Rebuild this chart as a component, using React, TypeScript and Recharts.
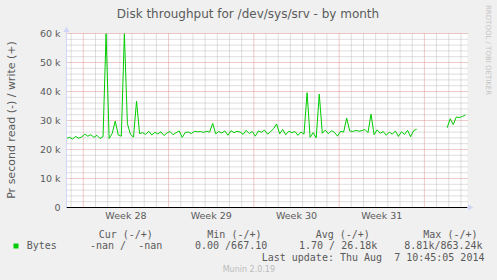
import React from 'react';
import { LineChart, Line, XAxis, YAxis, CartesianGrid, ReferenceLine } from 'recharts';

// sample grid: one value every 6 hours, first sample at START (days rel. to start of week 28)
const START = -1.38;
const STEP = 0.25;

// write bytes per second, in thousands (null = no data)
const writeK: (number | null)[] = [
  23.8, 24.2, 23.6, 24.5, 23.9, 24.3, 25.3, 24.6, 25.1, 24.2, 24.9, 23.8, 24.4,
  60, 23.8, 25.5, 29.8, 25.0, 24.6, 60, 28.9, 25.2, 24.3, 36.7, 25.5,
  25.8, 25.2, 26.3, 25.0, 25.9, 25.4, 26.1, 24.8, 25.7, 26.2, 25.1, 25.8,
  26.4, 24.2, 25.9, 26.0, 25.5, 26.3, 26.1, 26.2, 25.9, 26.3, 26.0,
  29.0, 25.4,
  26.2, 25.7, 26.4, 24.9, 26.5, 25.8, 26.3, 26.0, 25.2, 26.6, 25.5, 26.2,
  24.6, 26.4, 25.9, 26.7, 25.3, 26.1, 27.2,
  28.8, 25.4, 26.9, 25.1, 26.3, 25.8, 26.2, 24.9, 26.0, 25.3,
  39.6, 24.2, 25.8, 24.0, 39.1,
  25.6, 26.7, 25.4, 26.5, 25.9, 24.6, 26.3, 26.0,
  30.8, 26.4, 26.2, 26.6, 26.3, 26.5, 26.9, 25.8,
  32.2, 25.1, 26.8, 25.6, 26.2, 24.9, 26.0, 25.3, 26.4, 24.5, 26.1, 25.2,
  26.6, 24.4, 26.5, 27.0,
  null, null, null, null, null, null, null, null, null,
  27.5, 30.6, 28.6, 31.2, 31.0, 31.4, 31.9,
];

const yTicks = [0, 10, 20, 30, 40, 50, 60];
const yMajor = [10, 20, 30, 40, 50, 60];
const yMinor = [2, 4, 6, 8, 12, 14, 16, 18, 22, 24, 26, 28, 32, 34, 36, 38, 42, 44, 46, 48, 52, 54, 56, 58];
const weekStarts = [0, 7, 14, 21, 28];
const dayLines = [-1, 1, 2, 3, 4, 5, 6, 8, 9, 10, 11, 12, 13, 15, 16, 17, 18, 19, 20, 22, 23, 24, 25, 26, 27, 29, 30, 31];
const weekMids = [3.5, 10.5, 17.5, 24.5];
const weekLabels = ['Week 28', 'Week 29', 'Week 30', 'Week 31'];

const legendHead = ['Cur (-/+)', 'Min (-/+)', 'Avg (-/+)', 'Max (-/+)'];
const legendVals = ['-nan /  -nan', '0.00 /667.10', '1.70 / 26.18k', '8.81k/863.24k'];

const data = writeK.map((v, i) => ({ t: START + i * STEP, bytes: v }));

const FONT = '#5a5a5a';
const AXIS = '#CFD6F8';
const sans = '"DejaVu Sans", sans-serif';
const mono = '"DejaVu Sans Mono", monospace';

const App: React.FC = () => {
  const colX = [98.7, 207.3, 315.7, 423.3];
  const valX = [90, 195, 299, 404.3];

  return (
    <div style={{ position: 'absolute', left: 0, top: 0, width: 497, height: 280, background: '#f0f0f0' }}>
      <LineChart
        width={497}
        height={280}
        data={data}
        margin={{ top: 33.5, right: 29.5, bottom: 52.5, left: 6.5 }}
        style={{ position: 'absolute', left: 0, top: 0 }}
      >
        {/* minor grid */}
        <CartesianGrid
          fill="#ffffff"
          stroke="#bdbdbd"
          strokeDasharray="1 1"
          horizontalValues={yMinor}
          verticalValues={dayLines}
        />
        {/* major grid */}
        <CartesianGrid
          stroke="#e39393"
          strokeDasharray="1 1"
          horizontalValues={yMajor}
          verticalValues={weekStarts}
        />
        <XAxis
          type="number"
          dataKey="t"
          domain={[START, 31.54]}
          allowDataOverflow
          ticks={weekMids}
          tickFormatter={(v: number) => weekLabels[weekMids.indexOf(v)] ?? ''}
          tickLine={false}
          axisLine={false}
          tickSize={0}
          tickMargin={5}
          height={20}
          interval={0}
          tick={{ fontSize: 9.5, fontFamily: sans, fill: FONT }}
        />
        <YAxis
          domain={[0, 60]}
          allowDataOverflow
          ticks={yTicks}
          tickFormatter={(v: number) => (v === 0 ? '0' : `${v} k`)}
          tickLine={false}
          axisLine={{ stroke: AXIS }}
          tickSize={0}
          tickMargin={6}
          width={60}
          interval={0}
          tick={{ fontSize: 9.5, fontFamily: sans, fill: FONT }}
        />
        <ReferenceLine y={0} stroke="#000000" strokeWidth={1} />
        <Line
          type="linear"
          dataKey="bytes"
          stroke="#00cc00"
          strokeWidth={1}
          dot={false}
          activeDot={false}
          connectNulls={false}
          isAnimationActive={false}
        />
      </LineChart>

      <svg
        width={497}
        height={280}
        style={{ position: 'absolute', left: 0, top: 0, pointerEvents: 'none' }}
      >
        <text x={248} y={17.5} textAnchor="middle" fontSize={12} fontFamily={sans} fill={FONT}>
          Disk throughput for /dev/sys/srv - by month
        </text>
        <text
          x={15}
          y={120}
          transform="rotate(-90 15 120)"
          textAnchor="middle"
          fontSize={11}
          fontFamily={sans}
          fill={FONT}
        >
          Pr second read (-) / write (+)
        </text>
        <text
          x={485.5}
          y={5}
          transform="rotate(90 485.5 5)"
          fontSize={7}
          fontFamily={sans}
          fill="#c4c4c4"
        >
          RRDTOOL / TOBI OETIKER
        </text>

        {/* axis arrows */}
        <line x1={66.5} y1={33} x2={66.5} y2={30} stroke={AXIS} />
        <polygon points="66.5,26.5 63.5,32 69.5,32" fill={AXIS} />
        <line x1={467.5} y1={207.5} x2={469} y2={207.5} stroke={AXIS} />
        <polygon points="473.5,207.5 468,204.5 468,210.5" fill={AXIS} />

        {/* legend */}
        {legendHead.map((h, i) => (
          <text key={h} x={colX[i]} y={237.5} fontSize={10} fontFamily={mono} fill={FONT} style={{ whiteSpace: 'pre' }}>
            {h}
          </text>
        ))}
        <rect x={13.5} y={243.5} width={5} height={5} fill="#00cc00" />
        <text x={26.7} y={249.3} fontSize={10} fontFamily={mono} fill={FONT}>
          Bytes
        </text>
        {legendVals.map((v, i) => (
          <text key={v} x={valX[i]} y={249.3} fontSize={10} fontFamily={mono} fill={FONT} style={{ whiteSpace: 'pre' }}>
            {v}
          </text>
        ))}
        <text x={261.7} y={261} fontSize={10} fontFamily={mono} fill={FONT} style={{ whiteSpace: 'pre' }}>
          Last update: Thu Aug  7 10:45:05 2014
        </text>
        <text x={222.7} y={272} fontSize={8} fontFamily={sans} fill="#bbbbbb">
          Munin 2.0.19
        </text>
      </svg>
    </div>
  );
};

export default App;
